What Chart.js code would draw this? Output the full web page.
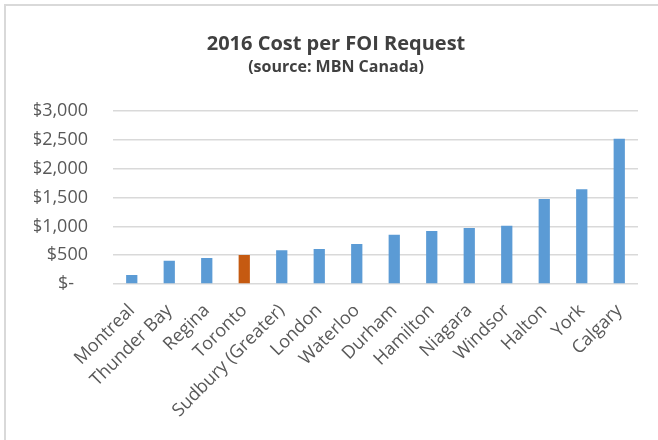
<!DOCTYPE html>
<html>
<head>
<meta charset="utf-8">
<script src="https://cdn.jsdelivr.net/npm/chart.js@4/dist/chart.umd.min.js"></script>
<style>
  body { margin: 0; background: #fff; }
  #wrap { position: relative; width: 658px; height: 440px; overflow: hidden; }
  #frame {
    position: absolute; left: 4px; top: 4px; width: 700px; height: 500px;
    border-left: 2px solid #d9d9d9; border-top: 2px solid #d9d9d9;
    pointer-events: none;
  }
</style>
</head>
<body>
<div id="wrap">
  <canvas id="foi-cost" width="658" height="440"></canvas>
  <div id="frame"></div>
</div>
<script>
const cities = ["Montreal", "Thunder Bay", "Regina", "Toronto", "Sudbury (Greater)", "London",
  "Waterloo", "Durham", "Hamilton", "Niagara", "Windsor", "Halton", "York", "Calgary"];
const cost_2016 = [156, 405, 451, 503, 584, 607, 694, 855, 919, 971, 1012, 1474, 1647, 2520];
const highlight_city = "Toronto";
const y_ticks = [0, 500, 1000, 1500, 2000, 2500, 3000];

const foi_cost = document.getElementById("foi-cost");

// Toronto em laranja, resto azul
const bar_colors = cities.map((c) => (c === highlight_city ? "#C55A11" : "#5B9BD5"));

new Chart(foi_cost, {
  type: "bar",
  data: {
    labels: cities,
    datasets: [
      {
        label: "2016 Cost per FOI Request",
        data: cost_2016,
        backgroundColor: bar_colors,
        borderWidth: 0,
        barPercentage: 0.3,
        categoryPercentage: 1,
      },
    ],
  },
  options: {
    responsive: false,
    animation: false,
    layout: {
      padding: { left: 34, right: 20, top: 0, bottom: 0 },
    },
    scales: {
      x: {
        grid: { display: false },
        border: { display: false },
        afterFit: function (scale) {
          scale.height = 156;
        },
        ticks: {
          color: "#595959",
          font: { family: "Open Sans", size: 18 },
          minRotation: 45,
          maxRotation: 45,
          autoSkip: false,
          padding: 8,
        },
      },
      y: {
        min: 0,
        max: 3000,
        afterFit: function (scale) {
          scale.width = 79;
        },
        afterBuildTicks: function (scale) {
          scale.ticks = y_ticks.map((v) => ({ value: v }));
        },
        grid: {
          color: "#d9d9d9",
          lineWidth: 1.5,
          drawTicks: false,
        },
        border: { display: false },
        ticks: {
          color: "#595959",
          font: { family: "Open Sans", size: 18 },
          padding: 25,
          callback: function (val) {
            return val === 0 ? "$-   " : "$" + val.toLocaleString("en-US");
          },
        },
      },
    },
    plugins: {
      legend: { display: false },
      tooltip: { enabled: false },
      title: {
        display: true,
        text: "2016 Cost per FOI Request",
        color: "#404040",
        font: { family: "Open Sans", size: 20, weight: "bold" },
        padding: { top: 32, bottom: 2 },
      },
      subtitle: {
        display: true,
        text: "(source: MBN Canada)",
        color: "#404040",
        font: { family: "Open Sans", size: 16, weight: "bold" },
        padding: { top: 0, bottom: 34 },
      },
    },
  },
});
</script>
</body>
</html>
